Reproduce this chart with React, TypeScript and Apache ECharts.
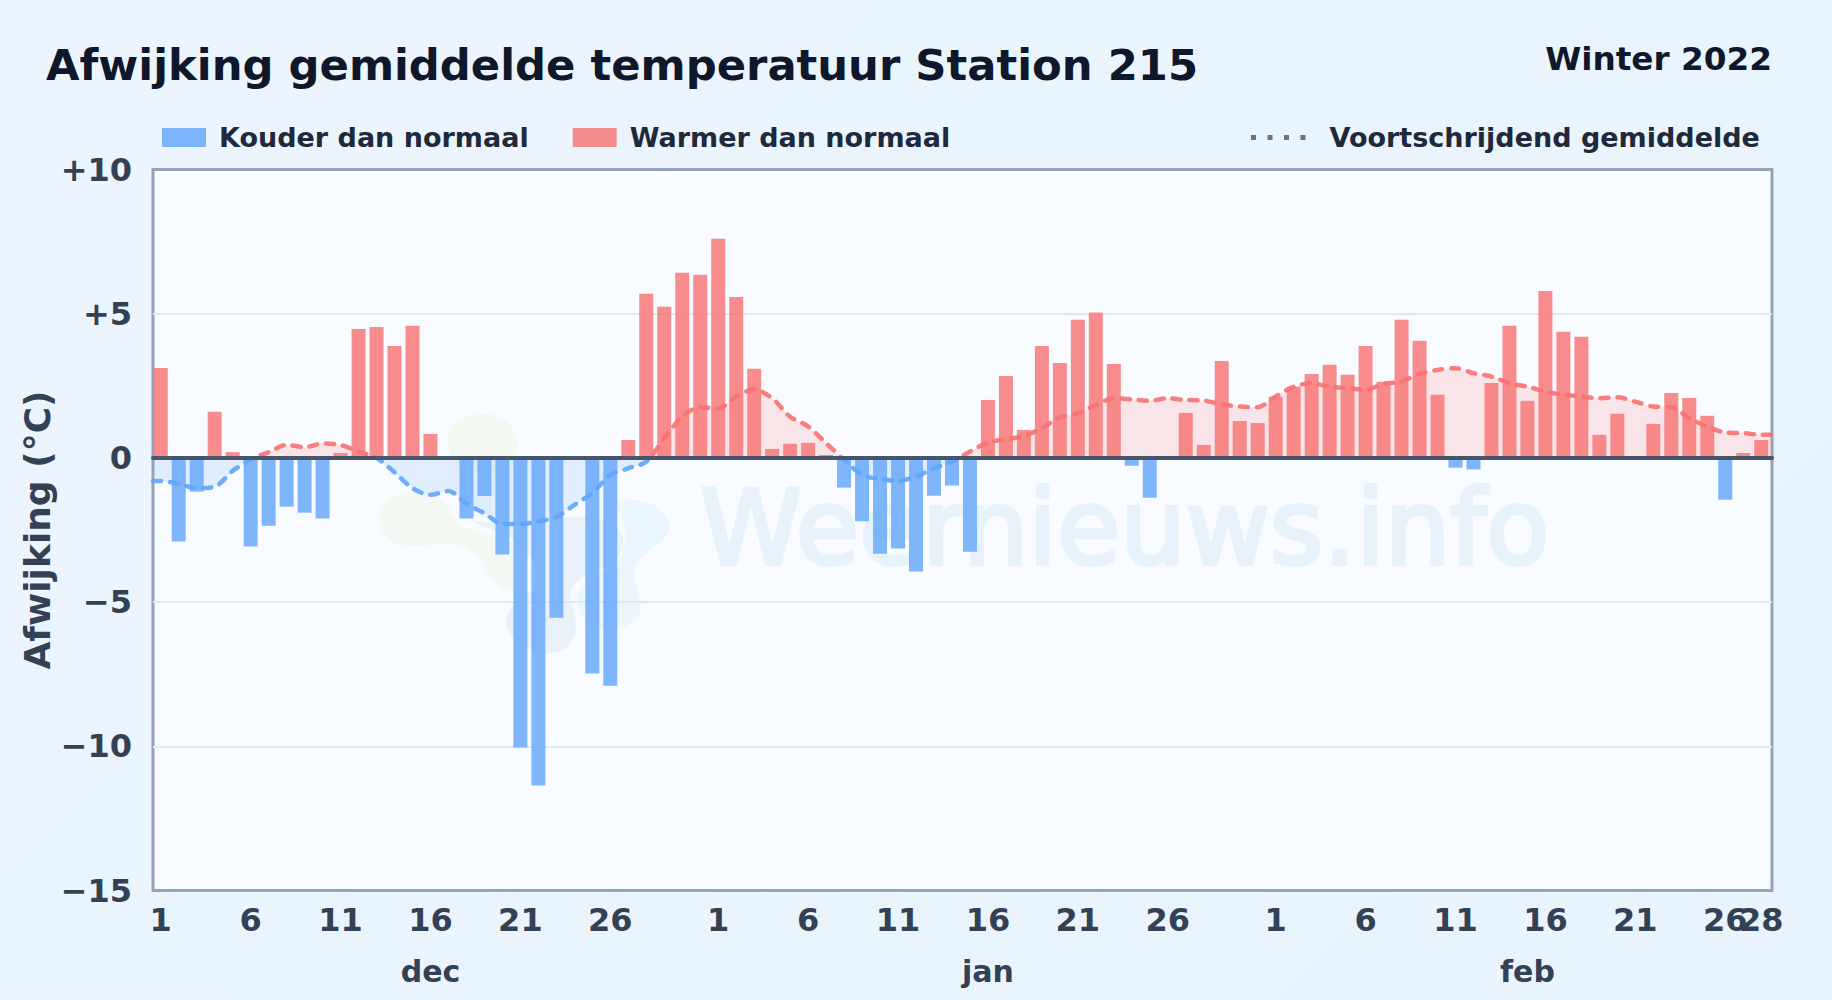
import React, { useEffect, useRef } from "react";
import * as echarts from "echarts";

const titleText = "Afwijking gemiddelde temperatuur Station 215";
const seasonText = "Winter 2022";
const yAxisName = "Afwijking (°C)";
const watermark = "Weernieuws.info";
const coldName = "Kouder dan normaal";
const warmName = "Warmer dan normaal";
const avgName = "Voortschrijdend gemiddelde";

const monthLengths = [31, 31, 28];
const monthNames = ["dec", "jan", "feb"];
const monthLabelIndex = [15, 46, 76];
const dayTicks = [1, 6, 11, 16, 21, 26];
const lastDayLabel = "28";

const dec = [3.12, -2.9, -1.17, 1.6, 0.2, -3.07, -2.35, -1.69, -1.9, -2.1, 0.17, 4.47, 4.54, 3.88, 4.58, 0.83, 0, -2.1, -1.32, -3.35, -10.04, -11.36, -5.54, 0, -7.48, -7.9, 0.62, 5.69, 5.24, 6.42, 6.35];
const jan = [7.6, 5.58, 3.09, 0.31, 0.49, 0.52, 0.1, -1.03, -2.2, -3.32, -3.14, -3.94, -1.31, -0.96, -3.25, 2.01, 2.84, 0.97, 3.88, 3.29, 4.79, 5.04, 3.26, -0.27, -1.38, 0, 1.56, 0.45, 3.36, 1.28, 1.21];
const feb = [2.12, 2.47, 2.91, 3.23, 2.88, 3.88, 2.64, 4.79, 4.06, 2.19, -0.34, -0.4, 2.6, 4.58, 1.98, 5.79, 4.37, 4.2, 0.8, 1.53, 0, 1.18, 2.25, 2.08, 1.46, -1.45, 0.17, 0.62];

const avgDec = [-0.8, -0.9, -1.05, -1.0, -0.45, -0.05, 0.2, 0.45, 0.37, 0.5, 0.45, 0.22, 0, -0.5, -1.05, -1.28, -1.15, -1.6, -1.92, -2.29, -2.29, -2.2, -2.05, -1.63, -1.22, -0.6, -0.36, -0.13, 0.68, 1.43, 1.76];
const avgJan = [1.72, 2.13, 2.38, 2.07, 1.43, 1.09, 0.51, -0.07, -0.59, -0.73, -0.8, -0.65, -0.36, -0.13, 0.22, 0.53, 0.65, 0.76, 1.03, 1.41, 1.55, 1.84, 2.07, 2.03, 1.98, 2.07, 2.01, 1.99, 1.86, 1.78, 1.76];
const avgFeb = [2.13, 2.47, 2.59, 2.47, 2.42, 2.36, 2.57, 2.65, 2.91, 3.05, 3.11, 2.94, 2.82, 2.59, 2.47, 2.3, 2.19, 2.13, 2.07, 2.1, 1.95, 1.78, 1.76, 1.38, 1.09, 0.88, 0.86, 0.8];

const deviations = [...dec, ...jan, ...feb];
const averages = [...avgDec, ...avgJan, ...avgFeb];

const X_MIN = -0.43;
const X_MAX = 89.6;

const tickLabels = new Map<number, string>();
let dayOffset = 0;
monthLengths.forEach((len) => {
  dayTicks.forEach((d) => {
    if (d <= len) tickLabels.set(dayOffset + d - 1, String(d));
  });
  dayOffset += len;
});
const lastDayIndex = dayOffset - 1;

const coldData = deviations.map((v, i) => [i, v < 0 ? v : 0]);
const warmData = deviations.map((v, i) => [i, v > 0 ? v : 0]);
const avgData = [
  [X_MIN, averages[0]],
  ...averages.map((v, i) => [i, v]),
  [X_MAX, averages[averages.length - 1]],
];

const greenTop = "M265,100 C270,60 340,35 400,45 C450,55 475,100 473,135 C470,200 400,240 340,230 C290,225 262,160 265,100Z";
const greenBand = "M58,345 C60,295 120,270 190,278 C250,285 270,330 300,375 C340,400 420,400 480,440 L500,570 C440,590 390,550 370,500 C350,450 300,430 250,432 C190,437 130,450 90,420 C65,400 56,375 58,345Z";
const blueA = "M770,305 C830,290 900,305 928,365 C940,420 870,440 830,490 C810,540 845,580 842,630 C835,680 760,700 710,685 C665,670 640,620 660,570 C680,530 740,520 770,490 C800,450 800,400 790,370 C780,340 770,320 770,305Z";
const blueB = "M340,360 C380,370 420,370 560,360 C640,345 720,345 770,380 C810,420 790,470 740,500 C690,520 640,530 630,590 C640,640 670,690 620,745 C560,785 460,740 440,680 C430,630 480,600 520,570 C560,520 500,440 430,400 C390,385 350,380 340,360Z";
echarts.graphic.registerShape("wnGreenTop", echarts.graphic.extendPath(greenTop, {}) as any);
echarts.graphic.registerShape("wnGreenBand", echarts.graphic.extendPath(greenBand, {}) as any);
echarts.graphic.registerShape("wnBlueA", echarts.graphic.extendPath(blueA, {}) as any);
echarts.graphic.registerShape("wnBlueB", echarts.graphic.extendPath(blueB, {}) as any);

const FONT = "DejaVu Sans";
const TEXT = "#334155";
const GRID = { left: 153, top: 169.5, width: 1619, height: 721 };

export default function App() {
  const ref = useRef<HTMLDivElement>(null);
  useEffect(() => {
    document.body.style.margin = "0";
    document.body.style.overflow = "hidden";
    const chart = echarts.init(ref.current!, undefined, { renderer: "svg" });
    const logoPart = (type: string, fill: string) => ({
      type,
      x: 360,
      y: 400,
      scaleX: 1 / 3,
      scaleY: 1 / 3,
      silent: true,
      style: { fill },
    });
    const hiddenParts = {
      type: "value",
      position: "bottom",
      min: X_MIN,
      max: X_MAX,
      splitLine: { show: false },
      axisLine: { show: false, onZero: false },
      axisTick: { show: false },
    };
    const labelStyle = { fontFamily: FONT, fontWeight: "bold", color: TEXT };
    chart.setOption({
      animation: false,
      backgroundColor: "transparent",
      title: [
        {
          text: titleText,
          left: 41,
          top: 38,
          textStyle: { fontFamily: FONT, fontSize: 43.3, fontWeight: "bold", color: "#0f172a" },
        },
        {
          text: seasonText,
          right: 55,
          top: 37,
          textStyle: { fontFamily: FONT, fontSize: 32.7, fontWeight: "bold", color: "#0f172a" },
        },
      ],
      legend: [
        {
          data: [coldName, warmName],
          left: 157,
          top: 119,
          icon: "rect",
          itemWidth: 44,
          itemHeight: 19,
          itemGap: 44,
          textStyle: { fontFamily: FONT, fontSize: 27, fontWeight: "bold", color: "#1e293b", padding: [0, 0, 0, 8] },
        },
        {
          data: [avgName],
          left: 1246,
          top: 119,
          icon: "path://M0 0h5v5H0zM16.5 0h5v5h-5zM33 0h5v5h-5zM49.5 0h5v5h-5z",
          itemWidth: 54.5,
          itemHeight: 5,
          itemStyle: { color: "#64748b" },
          textStyle: { fontFamily: FONT, fontSize: 27, fontWeight: "bold", color: "#1e293b", padding: [0, 0, 0, 19] },
        },
      ],
      grid: {
        ...GRID,
        show: true,
        backgroundColor: "#f8fbff",
        borderColor: "#94a3b8",
        borderWidth: 3,
        containLabel: false,
      },
      xAxis: [
        {
          ...hiddenParts,
          axisLabel: {
            ...labelStyle,
            customValues: [...tickLabels.keys()],
            formatter: (v: number) => tickLabels.get(Math.round(v)) ?? "",
            hideOverlap: false,
            fontSize: 32,
            margin: 13,
          },
        },
        {
          ...hiddenParts,
          axisLabel: {
            ...labelStyle,
            customValues: [lastDayIndex],
            formatter: () => lastDayLabel,
            hideOverlap: false,
            fontSize: 32,
            margin: 13,
          },
        },
        {
          ...hiddenParts,
          axisLabel: {
            ...labelStyle,
            customValues: monthLabelIndex,
            formatter: (v: number) => monthNames[monthLabelIndex.indexOf(Math.round(v))] ?? "",
            fontSize: 30,
            margin: 66,
          },
        },
        {
          ...hiddenParts,
          z: 10,
          axisLine: { show: true, onZero: true, lineStyle: { color: "#475569", width: 4 } },
          axisLabel: { show: false },
        },
      ],
      yAxis: {
        type: "value",
        min: -15,
        max: 10,
        interval: 5,
        name: yAxisName,
        nameLocation: "middle",
        nameRotate: 90,
        nameGap: 98,
        nameMoveOverlap: false,
        nameTextStyle: { fontFamily: FONT, fontSize: 36, fontWeight: "bold", color: TEXT },
        axisLine: { show: false, onZero: false },
        axisTick: { show: false },
        splitLine: { showMinLine: false, showMaxLine: false, lineStyle: { color: "#e2e8f0", width: 2 } },
        axisLabel: {
          ...labelStyle,
          fontSize: 32,
          margin: 21,
          formatter: (v: number) => (v > 0 ? `+${v}` : v < 0 ? `\u2212${-v}` : "0"),
        },
      },
      visualMap: {
        type: "piecewise",
        show: false,
        seriesIndex: 2,
        dimension: 1,
        pieces: [
          { gte: -15, lt: 0, color: "#60a5fa" },
          { gte: 0, lte: 10, color: "#f87171" },
        ],
      },
      graphic: {
        elements: [
          logoPart("wnGreenTop", "#f3f9f2"),
          logoPart("wnGreenBand", "#f3f9f2"),
          logoPart("wnBlueA", "#ebf6fe"),
          logoPart("wnBlueB", "#e9f2fa"),
          {
            type: "text",
            x: 700,
            y: 476,
            silent: true,
            style: {
              text: watermark,
              fontFamily: FONT,
              fontSize: 103,
              fill: "#e8f2fb",
              stroke: "#e8f2fb",
              lineWidth: 4,
            },
          },
        ],
      },
      series: [
        {
          name: coldName,
          type: "bar",
          xAxisIndex: 0,
          data: coldData,
          barWidth: 14,
          barGap: "-100%",
          itemStyle: { color: "#60a5fa", opacity: 0.8 },
        },
        {
          name: warmName,
          type: "bar",
          xAxisIndex: 0,
          data: warmData,
          barWidth: 14,
          barGap: "-100%",
          itemStyle: { color: "#f87171", opacity: 0.8 },
        },
        {
          name: avgName,
          type: "line",
          xAxisIndex: 0,
          data: avgData,
          smooth: 0.3,
          showSymbol: false,
          symbol: "none",
          z: 4,
          lineStyle: { width: 4.5, type: [8, 9], cap: "round", opacity: 0.9 },
          areaStyle: { opacity: 0.16 },
        },
      ],
    });
    return () => chart.dispose();
  }, []);
  return (
    <div
      ref={ref}
      style={{ width: 1832, height: 1000, background: "linear-gradient(135deg,#ecf5fd,#e8f3fc)" }}
    />
  );
}
